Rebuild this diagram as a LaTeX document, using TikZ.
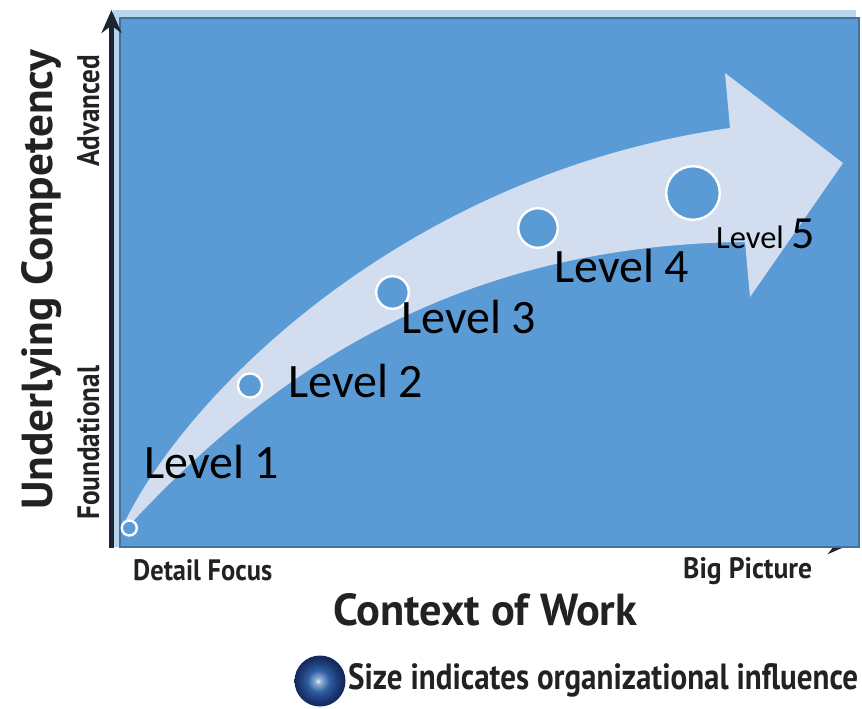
\documentclass[tikz,border=0pt]{standalone}
\usepackage{fontspec}
\usepackage{graphicx}
\setmainfont{Carlito}
\newfontfamily\axfont{PT Sans}
\usetikzlibrary{arrows.meta}

\definecolor{bgblue}{HTML}{5B9BD5}
\definecolor{arrowfill}{HTML}{D2DEEF}
\definecolor{rimblue}{HTML}{41719C}
\definecolor{stripblue}{HTML}{B9D5EE}
\definecolor{axisdark}{HTML}{1C2533}
\definecolor{textdark}{HTML}{222222}
\definecolor{spha}{HTML}{E8EFF6}
\definecolor{sphb}{HTML}{8FB0D6}
\definecolor{sphc}{HTML}{2E5C9E}
\definecolor{sphd}{HTML}{1A3570}
\definecolor{sphe}{HTML}{12275A}

\pgfdeclareradialshading{sphereshade}{\pgfpoint{-2bp}{0bp}}{%
  color(0bp)=(spha); color(3bp)=(sphb); color(11bp)=(sphc);
  color(20bp)=(sphd); color(25bp)=(sphe); color(50bp)=(sphe)}

\newcommand{\fitlabel}[3]{\resizebox{#1}{#2}{\axfont\bfseries #3}}

\begin{document}
\begin{tikzpicture}[x=1pt,y=-1pt,
  levelc/.style={circle, draw=white, line width=2.4pt, fill=bgblue, inner sep=0pt},
  leveltxt/.style={anchor=base west, inner sep=0pt, font=\fontsize{48}{52}\selectfont},
  axlab/.style={anchor=base west, inner sep=0pt, text=textdark},
  axisline/.style={axisdark, -{Stealth[length=23pt,width=20pt]}}]

\useasboundingbox (0,0) rectangle (862,709);
\fill[white] (0,0) rectangle (862,709);

% axes end points
\coordinate (ybot) at (111.5,548);
\coordinate (ytop) at (111.5,10);
\coordinate (xleft) at (109,544);
\coordinate (xright) at (851,544);

\draw[axisline, line width=4.5pt] (xleft) -- (xright);
\fill[stripblue] (113,10) rectangle (856,547);
\draw[fill=bgblue, draw=rimblue, line width=1.5pt] (120,18) rectangle (859,547);
\draw[axisline, line width=5pt] (ybot) -- (ytop);

% curved arrow
\fill[arrowfill] (121,530) .. controls (180,400) and (400,175) .. (730,128)
  -- (725,73) -- (843,163) -- (750,297) -- (745,242)
  .. controls (470,245) and (280,360) .. (125,530) -- cycle;

% level circles
\node[levelc, minimum size=15pt] (c1) at (129.3,528) {};
\node[levelc, minimum size=24.2pt] (c2) at (250,385.5) {};
\node[levelc, minimum size=32.6pt] (c3) at (392.5,292.5) {};
\node[levelc, minimum size=39.6pt] (c4) at (538,228) {};
\node[levelc, minimum size=53.6pt] (c5) at (693,193) {};

% level labels
\node[leveltxt] (l1) at (144,478) {Level 1};
\node[leveltxt] (l2) at (288,397) {Level 2};
\node[leveltxt] (l3) at (401,333) {Level 3};
\node[leveltxt] (l4) at (554,282) {Level 4};
\node[anchor=base west, inner sep=0pt] (l5) at (716,248)
  {\fontsize{32.5}{33}\selectfont Level \fontsize{46}{46}\selectfont 5};

% axis labels
\node[axlab, rotate=90] (ylab) at (52,510) {\fitlabel{460pt}{31pt}{Underlying Competency}};
\node[axlab, rotate=90] (adv) at (99,167) {\fitlabel{112pt}{22pt}{Advanced}};
\node[axlab, rotate=90] (fnd) at (99,520) {\fitlabel{154pt}{22pt}{Foundational}};
\node[axlab] (det) at (133,580) {\fitlabel{139pt}{21pt}{Detail Focus}};
\node[axlab] (big) at (683,578) {\fitlabel{129pt}{21pt}{Big Picture}};
\node[axlab] (ctx) at (333,625) {\fitlabel{304pt}{32pt}{Context of Work}};

% legend
\node[circle, minimum size=51pt, inner sep=0pt, shading=sphereshade] (ball) at (320,681) {};
\node[axlab] (leg) at (348,689) {\fitlabel{510pt}{26pt}{Size indicates organizational influence}};
\end{tikzpicture}
\end{document}
